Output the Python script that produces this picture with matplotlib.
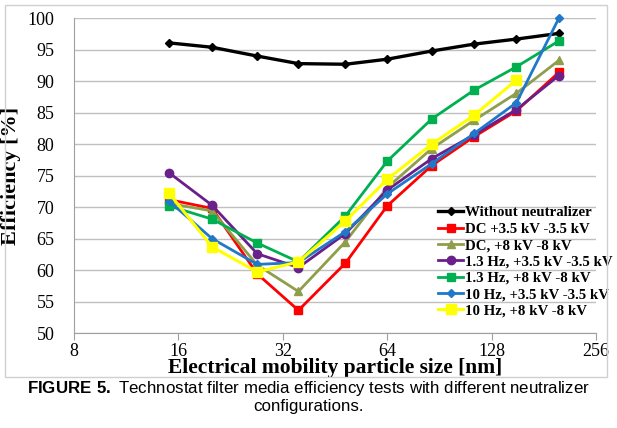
import matplotlib
matplotlib.use("Agg")
import matplotlib.pyplot as plt
from matplotlib.patches import Rectangle
from matplotlib.ticker import FixedLocator, NullLocator

plt.rcParams["mathtext.fontset"] = "custom"
plt.rcParams["mathtext.bf"] = "Liberation Sans:bold"
plt.rcParams["mathtext.rm"] = "Liberation Sans"

# particle sizes [nm]
size_nm = [15, 20, 27, 35.5, 48.5, 64, 86, 114, 151, 200]

eff_none = [96.1, 95.4, 94.0, 92.8, 92.7, 93.5, 94.8, 95.9, 96.7, 97.6]
eff_dc35 = [71.2, 69.8, 59.4, 53.6, 61.1, 70.2, 76.6, 81.2, 85.3, 91.4]
eff_dc8 = [70.6, 69.4, 60.8, 56.6, 64.5, 73.1, 79.3, 83.8, 88.1, 93.3]
eff_13_35 = [75.5, 70.3, 62.6, 60.4, 65.8, 72.7, 77.7, 81.5, 85.5, 90.9]
eff_13_8 = [70.2, 68.1, 64.3, 61.3, 68.6, 77.3, 84.0, 88.6, 92.3, 96.4]
eff_10_35 = [71.0, 65.0, 60.9, 61.2, 66.1, 72.1, 76.9, 81.7, 86.6, 100.0]
size_10_8 = size_nm[:9]
eff_10_8 = [72.3, 63.7, 59.7, 61.3, 67.8, 74.4, 80.0, 84.6, 90.2]

x_ticks = [8, 16, 32, 64, 128, 256]
y_ticks = list(range(50, 101, 5))

fig = plt.figure(figsize=(6.17, 4.28), dpi=100)
ax = fig.add_axes([74 / 617, 1 - 333 / 428, (596 - 74) / 617, (333 - 18.3) / 428])

# outer chart frame
fig.patches.append(Rectangle((5 / 617, 1 - 377 / 428), 602 / 617, 372 / 428,
                             transform=fig.transFigure, fill=False,
                             edgecolor="#d0d0d0", linewidth=1.0))

series = [
    (size_nm, eff_none, "Without neutralizer", "black", "D", 4, 2.4),
    (size_nm, eff_dc35, "DC +3.5 kV -3.5 kV", "#ff0000", "s", 5.5, 2.0),
    (size_nm, eff_dc8, "DC, +8 kV -8 kV", "#8f9e4a", "^", 6, 2.0),
    (size_nm, eff_13_35, "1.3 Hz, +3.5 kV -3.5 kV", "#6a1f8a", "o", 6, 2.0),
    (size_nm, eff_13_8, "1.3 Hz, +8 kV -8 kV", "#00b050", "s", 5.5, 2.0),
    (size_nm, eff_10_35, "10 Hz, +3.5 kV -3.5 kV", "#1f78c8", "D", 4.5, 2.0),
    (size_10_8, eff_10_8, "10 Hz, +8 kV -8 kV", "#ffff00", "s", 6.5, 2.2),
]
for xs, ys, lab, col, mk, ms, lw in series:
    ax.plot(xs, ys, color=col, marker=mk, markersize=ms, linewidth=lw,
            label=lab, clip_on=False)

ax.set_xscale("log", base=2)
ax.set_xlim(8, 256)
ax.set_ylim(50, 100)
ax.xaxis.set_major_locator(FixedLocator(x_ticks))
ax.xaxis.set_minor_locator(NullLocator())
ax.set_xticklabels([str(t) for t in x_ticks])
ax.set_yticks(y_ticks)

serif = ["Liberation Serif", "DejaVu Serif"]
for lbl in ax.get_xticklabels() + ax.get_yticklabels():
    lbl.set_family(serif)
    lbl.set_fontsize(13)

ax.grid(axis="y", color="#c0c0c0", linewidth=1.0)
ax.set_axisbelow(True)
for side in ["top", "right"]:
    ax.spines[side].set_visible(False)
for side in ["left", "bottom"]:
    ax.spines[side].set_color("#a0a0a0")
ax.tick_params(axis="y", length=0, pad=14)
ax.tick_params(axis="x", length=5, color="#a0a0a0", direction="out", pad=2)

ax.set_xlabel("Electrical mobility particle size [nm]", family=serif,
              fontsize=15.5, fontweight="bold", labelpad=-1)
ax.set_ylabel("Efficiency [%]", family=serif, fontsize=16,
              fontweight="bold", labelpad=5)

leg = ax.legend(loc="upper left", bbox_to_anchor=(438 / 617, 1 - 206 / 428),
                bbox_transform=fig.transFigure, frameon=False,
                prop={"family": serif, "weight": "bold", "size": 10.7},
                handlelength=1.7, handletextpad=0.1, labelspacing=0.2,
                borderpad=0, borderaxespad=0)

fig.text(0.5, 1 - 388 / 428,
         r"$\bf{FIGURE\ 5.}$ Technostat filter media efficiency tests with different neutralizer",
         ha="center", va="center", family="Liberation Sans", fontsize=12.2)
fig.text(0.5, 1 - 406 / 428, "configurations.", ha="center", va="center",
         family="Liberation Sans", fontsize=12.2)

fig.savefig("out.png", dpi=100)
